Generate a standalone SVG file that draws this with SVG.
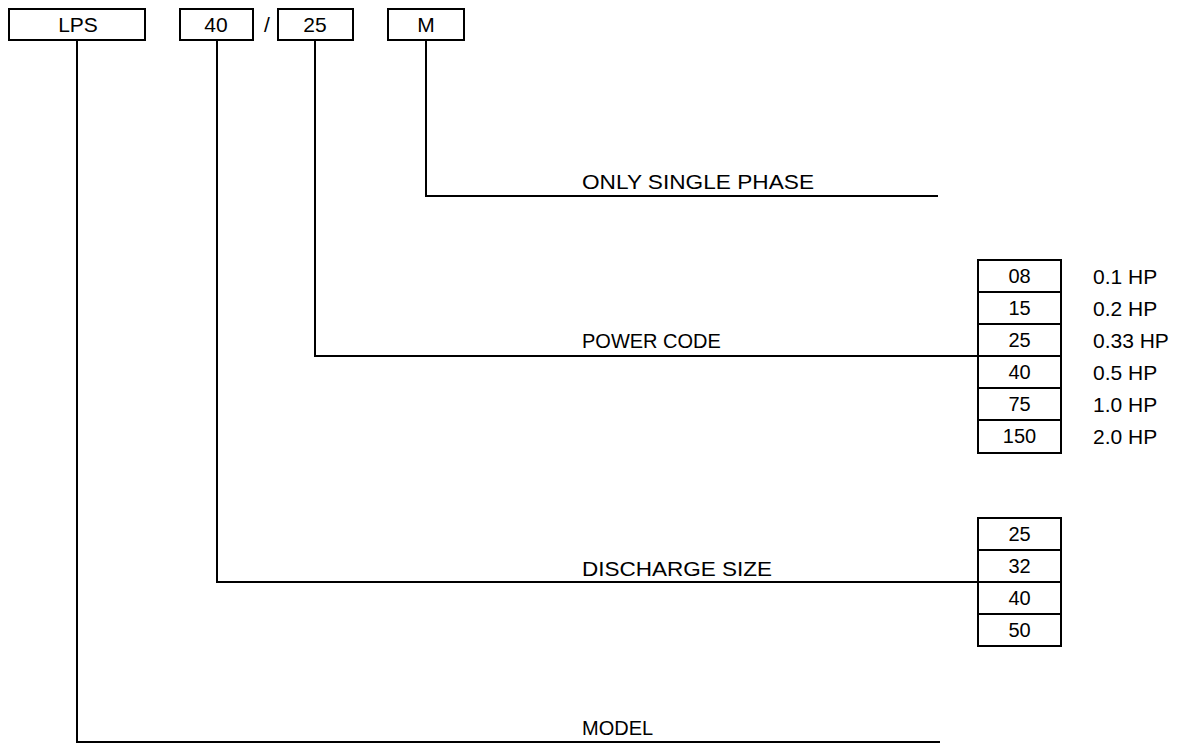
<svg xmlns="http://www.w3.org/2000/svg" width="1202" height="745" viewBox="0 0 1202 745">
<style>
.box{fill:#fff;stroke:#000;stroke-width:2}
.t{font-family:"Liberation Sans",Arial,sans-serif;font-size:20px;fill:#000}
.top{font-size:21px}
.hp{font-size:21px}
.c{text-anchor:middle}
.ln{fill:none;stroke:#000;stroke-width:2}
</style>
<rect width="1202" height="745" fill="#fff"/>
<g id="connectors">
<polyline class="ln" points="77,40 77,742 940,742"/>
<polyline class="ln" points="217,40 217,582 978,582"/>
<polyline class="ln" points="315,40 315,356 978,356"/>
<polyline class="ln" points="426,40 426,196 938,196"/>
</g>
<g id="node-lps"><rect class="box" x="9" y="9" width="136" height="31"/><text class="t top c" x="78" y="32">LPS</text></g>
<g id="node-40"><rect class="box" x="180" y="9" width="73" height="31"/><text class="t top c" x="216" y="32">40</text></g>
<g id="slash"><text class="t top c" x="267" y="32">/</text></g>
<g id="node-25"><rect class="box" x="278" y="9" width="75" height="31"/><text class="t top c" x="315" y="32">25</text></g>
<g id="node-m"><rect class="box" x="388" y="9" width="76" height="31"/><text class="t top c" x="426" y="32">M</text></g>
<g id="label-phase"><text class="t" x="582" y="189" textLength="232" lengthAdjust="spacingAndGlyphs">ONLY SINGLE PHASE</text></g>
<g id="label-power"><text class="t" x="582" y="348">POWER CODE</text></g>
<g id="label-discharge"><text class="t" x="582" y="576" textLength="190" lengthAdjust="spacingAndGlyphs">DISCHARGE SIZE</text></g>
<g id="label-model"><text class="t" x="582" y="735">MODEL</text></g>
<g id="power-table">
<rect class="box" x="978" y="260" width="83" height="32"/><text class="t c" x="1019.5" y="283">08</text>
<rect class="box" x="978" y="292" width="83" height="32"/><text class="t c" x="1019.5" y="315">15</text>
<rect class="box" x="978" y="324" width="83" height="32"/><text class="t c" x="1019.5" y="347">25</text>
<rect class="box" x="978" y="356" width="83" height="32"/><text class="t c" x="1019.5" y="379">40</text>
<rect class="box" x="978" y="388" width="83" height="32"/><text class="t c" x="1019.5" y="411">75</text>
<rect class="box" x="978" y="420" width="83" height="33"/><text class="t c" x="1019.5" y="443">150</text>
<text class="t hp" x="1093" y="284">0.1 HP</text>
<text class="t hp" x="1093" y="316">0.2 HP</text>
<text class="t hp" x="1093" y="348">0.33 HP</text>
<text class="t hp" x="1093" y="380">0.5 HP</text>
<text class="t hp" x="1093" y="412">1.0 HP</text>
<text class="t hp" x="1093" y="444">2.0 HP</text>
</g>
<g id="discharge-table">
<rect class="box" x="978" y="518" width="83" height="32"/><text class="t c" x="1019.5" y="541">25</text>
<rect class="box" x="978" y="550" width="83" height="32"/><text class="t c" x="1019.5" y="573">32</text>
<rect class="box" x="978" y="582" width="83" height="32"/><text class="t c" x="1019.5" y="605">40</text>
<rect class="box" x="978" y="614" width="83" height="32"/><text class="t c" x="1019.5" y="637">50</text>
</g>
</svg>
